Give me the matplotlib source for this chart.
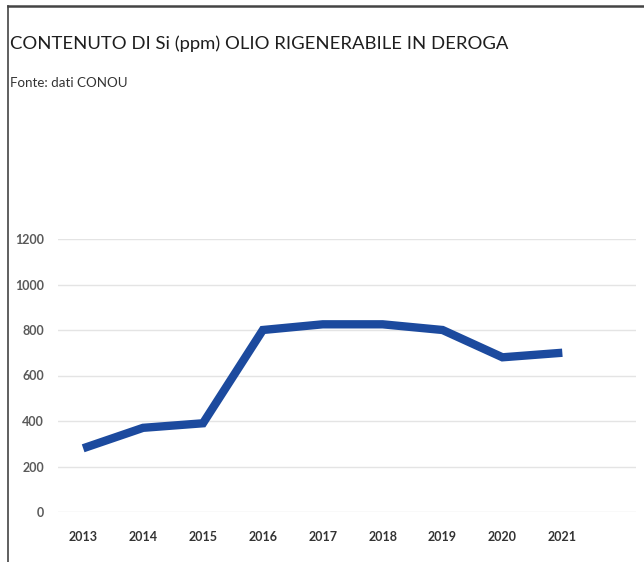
import matplotlib
matplotlib.use("Agg")
from matplotlib import pyplot as plt
from matplotlib.lines import Line2D

years = [2013, 2014, 2015, 2016, 2017, 2018, 2019, 2020, 2021]
si_ppm = [280, 370, 390, 800, 825, 825, 800, 680, 700]
yticks = [0, 200, 400, 600, 800, 1000, 1200]

title = "CONTENUTO DI Si (ppm) OLIO RIGENERABILE IN DEROGA"
source = "Fonte: dati CONOU"

plt.rcParams['font.family'] = ['Lato', 'DejaVu Sans']

fig = plt.figure(figsize=(6.44, 5.62), dpi=100)
fig.patch.set_facecolor('white')

# frame lines (top and left) like the scanned page
fig.add_artist(Line2D([8/644, 8/644], [0, 1-6/562], color='#444444', lw=1.2))
fig.add_artist(Line2D([8/644, 643/644], [1-6/562, 1-6/562], color='#444444', lw=1.8))

fig.text(10/644, 1-44/562, title, fontsize=13.3, color='#1e1e1e', va='center', ha='left')
fig.text(10/644, 1-83/562, source, fontsize=9.6, color='#333333', va='center', ha='left')

ax = fig.add_axes([58/644, 1-512/562, (636-58)/644, (512-239)/562])
ax.plot(years, si_ppm, color='#1c4a9e', lw=6, solid_joinstyle='miter', solid_capstyle='butt')

ax.set_xlim(2012.58, 2022.23)
ax.set_ylim(0, 1200)
ax.set_yticks(yticks)
ax.set_xticks(years)
ax.grid(axis='y', color='#e4e4e4', lw=1)
ax.set_axisbelow(True)
for s in ax.spines.values():
    s.set_visible(False)
ax.tick_params(length=0)
ax.tick_params(axis='y', pad=10, labelsize=9, labelcolor='#5a5a5a')
ax.tick_params(axis='x', pad=14, labelsize=9, labelcolor='#333333')
for lab in ax.get_xticklabels() + ax.get_yticklabels():
    lab.set_fontweight('bold')

fig.savefig('out.png', dpi=100)
